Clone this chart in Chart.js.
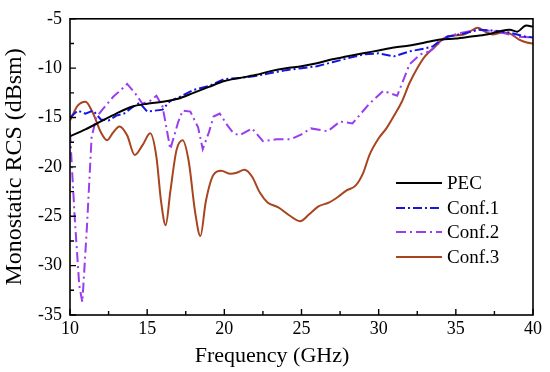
<!DOCTYPE html>
<html>
<head>
<meta charset="utf-8">
<script src="https://cdn.jsdelivr.net/npm/chart.js@4/dist/chart.umd.min.js"></script>
<style>
  html, body { margin: 0; padding: 0; background: #fff; }
  #wrap { width: 550px; height: 372px; }
</style>
</head>
<body>
<div id="wrap"><canvas id="rcsChart" width="550" height="372"></canvas></div>
<script>
// series (x in GHz, y in dBsm)
const pecFreq = [10, 11, 12, 13, 14, 15, 16, 17, 18, 19, 20, 21, 22, 23, 24, 25, 26, 27, 28, 29, 30, 31, 32, 33, 34, 35, 36, 37, 38, 38.5, 39, 39.5, 40];
const pecRcs = [-16.9, -16.2, -15.4, -14.6, -13.9, -13.6, -13.4, -13.1, -12.5, -11.9, -11.3, -11.0, -10.7, -10.3, -10.0, -9.8, -9.5, -9.1, -8.8, -8.5, -8.2, -7.9, -7.7, -7.4, -7.1, -7.0, -6.8, -6.6, -6.2, -6.1, -6.3, -5.7, -5.8];

const conf1Freq = [10, 10.5, 11, 11.5, 12, 12.5, 13, 13.5, 14, 14.5, 15, 15.5, 16, 16.5, 17, 17.5, 18, 19, 20, 21, 22, 23, 24, 25, 26, 27, 28, 29, 30, 31, 32, 33, 33.5, 34, 34.5, 35.5, 36.5, 37.5, 38.5, 39.5, 40];
const conf1Rcs = [-15.0, -14.3, -14.6, -14.3, -15.2, -15.3, -14.8, -14.6, -14.0, -13.5, -14.4, -14.3, -14.2, -13.3, -13.0, -12.6, -12.2, -11.8, -11.1, -11.0, -10.8, -10.5, -10.2, -10.0, -9.8, -9.4, -9.0, -8.6, -8.5, -8.8, -8.3, -8.0, -7.8, -7.2, -6.8, -6.5, -6.1, -6.2, -6.4, -6.8, -6.9];

const conf2Freq = [10, 10.3, 10.6, 10.8, 11.1, 11.4, 11.7, 12.1, 12.8, 13.3, 13.7, 14.2, 14.7, 15.2, 15.6, 16.0, 16.5, 17.0, 17.3, 17.8, 18.3, 18.6, 19.0, 19.3, 19.7, 20.2, 20.6, 21.0, 21.8, 22.5, 23.4, 24.3, 25.0, 25.6, 26.7, 27.5, 28.3, 29.4, 30.3, 31.2, 32.0, 32.7, 33.3, 34.4, 35.4, 36.4, 37.7, 39.0, 40];
const conf2Rcs = [-16.5, -25, -32, -33.7, -26, -17, -15, -14.2, -12.9, -12.2, -11.6, -12.5, -13.6, -13.3, -12.8, -13.9, -18.2, -15.5, -14.3, -14.4, -16, -18.2, -16.5, -14.9, -14.6, -15.8, -16.6, -16.8, -16.1, -17.4, -17.2, -17.2, -16.7, -16.1, -16.4, -15.4, -15.6, -13.6, -12.3, -12.8, -9.6, -8.6, -8.3, -6.8, -6.4, -6.1, -6.3, -6.8, -6.9];

const conf3Freq = [10, 10.5, 11.0, 11.5, 12.0, 12.4, 12.8, 13.2, 13.7, 14.2, 14.7, 15.2, 15.6, 15.9, 16.2, 16.5, 16.9, 17.3, 17.7, 18.1, 18.45, 18.8, 19.3, 19.8, 20.4, 20.8, 21.3, 21.8, 22.3, 22.8, 23.5, 24.2, 24.9, 25.5, 26.1, 26.8, 27.4, 27.9, 28.5, 29.0, 29.4, 30.0, 30.5, 31.0, 31.5, 32.0, 32.5, 33.0, 33.6, 34.2, 34.8, 35.5, 36.0, 36.4, 36.9, 37.4, 38.0, 38.5, 39.1, 39.6, 40];
const conf3Rcs = [-15.3, -13.8, -13.4, -14.6, -16.5, -17.3, -16.5, -15.9, -16.8, -18.8, -17.8, -16.6, -19, -23.5, -25.9, -22.5, -18.3, -17.3, -19.5, -24.5, -27, -23.5, -20.8, -20.4, -20.7, -20.6, -20.3, -21, -22.6, -23.6, -24.1, -24.9, -25.5, -24.8, -24, -23.6, -23, -22.4, -21.9, -20.6, -18.8, -17.1, -16.1, -14.8, -13.4, -11.5, -10.0, -8.8, -7.9, -7.0, -6.7, -6.6, -6.2, -5.9, -6.3, -6.6, -6.4, -6.5, -7.1, -7.4, -7.5];

const seriesNames = ['PEC', 'Conf.1', 'Conf.2', 'Conf.3'];
const xTicks = [10, 15, 20, 25, 30, 35, 40];
const yTicks = [-35, -30, -25, -20, -15, -10, -5];

const FONT = "'Liberation Serif', 'Times New Roman', serif";

function toPoints(xs, ys) {
    return xs.map((x, i) => ({ x: x, y: ys[i] }));
}

// frame, inward ticks, x title and the legend inside the plot
const framePlugin = {
    id: 'frame',
    afterDatasetsDraw(chart) {
        const ctx = chart.ctx;
        const a = chart.chartArea;
        const xs = chart.scales.x;
        const ys = chart.scales.y;
        ctx.save();
        ctx.strokeStyle = '#000';
        ctx.lineWidth = 1.6;
        ctx.setLineDash([]);
        ctx.strokeRect(a.left, a.top, a.right - a.left, a.bottom - a.top);

        ctx.lineWidth = 1.4;
        ctx.beginPath();
        for (let v = 10; v <= 40; v += 2.5) {
            const px = xs.getPixelForValue(v);
            const len = (v % 5 === 0) ? 6 : 4;
            ctx.moveTo(px, a.bottom);
            ctx.lineTo(px, a.bottom - len);
        }
        for (let v = -35; v <= -5; v += 2.5) {
            const py = ys.getPixelForValue(v);
            const len = (v % 5 === 0) ? 6 : 4;
            ctx.moveTo(a.left, py);
            ctx.lineTo(a.left + len, py);
        }
        ctx.stroke();

        // x axis title sits a bit left of the plot centre in the original
        ctx.fillStyle = '#000';
        ctx.font = '22px ' + FONT;
        ctx.textAlign = 'center';
        ctx.textBaseline = 'alphabetic';
        ctx.fillText('Frequency (GHz)', 272, 362);

        // legend
        const rowY = [183, 208, 232, 257];
        ctx.font = '19px ' + FONT;
        ctx.textAlign = 'left';
        ctx.textBaseline = 'middle';
        chart.data.datasets.forEach((ds, i) => {
            ctx.strokeStyle = ds.borderColor;
            ctx.lineWidth = ds.borderWidth;
            ctx.setLineDash(ds.borderDash || []);
            ctx.beginPath();
            ctx.moveTo(396, rowY[i]);
            ctx.lineTo(442, rowY[i]);
            ctx.stroke();
            ctx.setLineDash([]);
            ctx.fillText(ds.label, 447, rowY[i] + 1);
        });
        ctx.restore();
    }
};

new Chart(document.getElementById('rcsChart').getContext('2d'), {
    type: 'line',
    data: {
        datasets: [{
            label: seriesNames[0],
            data: toPoints(pecFreq, pecRcs),
            borderColor: '#000000',
            borderWidth: 2,
            tension: 0.3
        }, {
            label: seriesNames[1],
            data: toPoints(conf1Freq, conf1Rcs),
            borderColor: '#1414e6',
            borderWidth: 2,
            borderDash: [9, 3, 2, 3],
            tension: 0
        }, {
            label: seriesNames[2],
            data: toPoints(conf2Freq, conf2Rcs),
            borderColor: '#9a3cf0',
            borderWidth: 2,
            borderDash: [10, 4, 2, 4],
            tension: 0
        }, {
            label: seriesNames[3],
            data: toPoints(conf3Freq, conf3Rcs),
            borderColor: '#a8451f',
            borderWidth: 2,
            cubicInterpolationMode: 'monotone'
        }]
    },
    options: {
        responsive: false,
        animation: false,
        layout: { padding: { top: 14, right: 17, left: 0, bottom: 0 } },
        elements: { point: { radius: 0 } },
        plugins: {
            legend: { display: false },
            tooltip: { enabled: false }
        },
        scales: {
            x: {
                type: 'linear',
                min: 10,
                max: 40,
                afterFit(scale) { scale.height = 57; },
                afterBuildTicks(scale) { scale.ticks = xTicks.map(v => ({ value: v })); },
                grid: { display: false, drawTicks: false },
                border: { display: false },
                ticks: {
                    padding: 3,
                    color: '#000',
                    font: { family: FONT, size: 18 },
                    maxRotation: 0
                },
                title: { display: false }
            },
            y: {
                min: -35,
                max: -5,
                afterFit(scale) { scale.width = 70; },
                afterBuildTicks(scale) { scale.ticks = yTicks.map(v => ({ value: v })); },
                grid: { display: false, drawTicks: false },
                border: { display: false },
                ticks: {
                    padding: 8,
                    color: '#000',
                    font: { family: FONT, size: 18 }
                },
                title: {
                    display: true,
                    text: 'Monostatic RCS (dBsm)',
                    color: '#000',
                    font: { family: FONT, size: 24 },
                    padding: { top: 0, bottom: 0 }
                }
            }
        }
    },
    plugins: [framePlugin]
});
</script>
</body>
</html>
